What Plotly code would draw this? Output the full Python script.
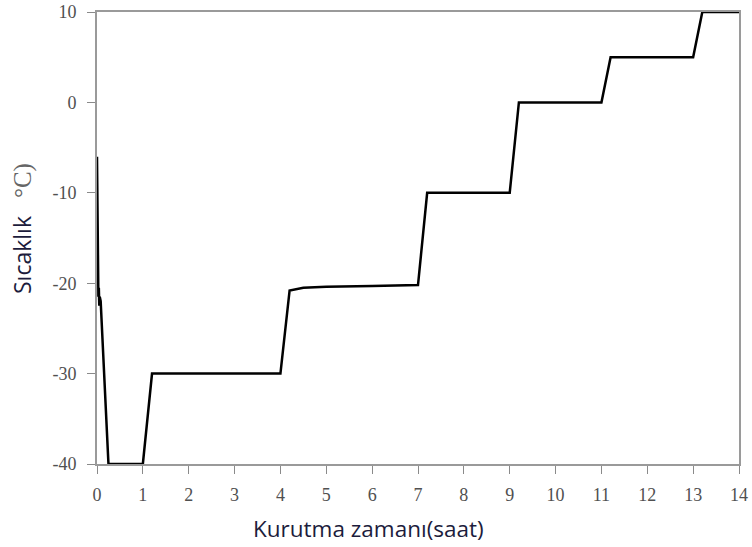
import plotly.graph_objects as go

# Drying time (hours) and temperature (°C)
time_h = [0.0, 0.005, 0.01, 0.015, 0.02, 0.03, 0.04, 0.05, 0.06, 0.08, 0.25,
          1.0, 1.2, 4.0, 4.2, 4.5, 5.0, 6.0, 7.0, 7.2, 9.0, 9.2, 11.0, 11.2,
          13.0, 13.2, 14.0]
temp_c = [-6.0, -10.0, -14.0, -18.5, -19.5, -21.5, -20.5, -22.5, -21.5, -22.0, -40.0,
          -40.0, -30.0, -30.0, -20.8, -20.5, -20.4, -20.3, -20.2, -10.0, -10.0, 0.0, 0.0, 5.0,
          5.0, 10.0, 10.0]

x_ticks = list(range(0, 15))
y_ticks = [-40, -30, -20, -10, 0, 10]
y_tick_text = ["-40", "-30", "-20", "-10", "0", "10"]

fig = go.Figure()
fig.add_trace(go.Scatter(x=time_h, y=temp_c, mode="lines",
                         line=dict(color="black", width=2.5), showlegend=False))

axis_common = dict(showgrid=False, zeroline=False, showline=True, linecolor="#9a9a9a",
                   linewidth=2, mirror=True, ticks="outside", ticklen=8, tickwidth=1,
                   tickcolor="#8a8a8a", ticklabeloverflow="allow",
                   tickfont=dict(family="Liberation Serif", size=18, color="#505050"))

fig.update_xaxes(range=[0, 14], tickvals=x_ticks, ticklabelstandoff=5, **axis_common)
fig.update_yaxes(range=[-40, 10], tickvals=y_ticks, ticktext=y_tick_text,
                 ticklabelstandoff=7, **axis_common)

# plot area: 642 x 452 px
fig.add_annotation(text="Kurutma zamanı(saat)", xref="paper", yref="paper",
                   x=(368 - 97) / 642, y=-(528 - 464) / 452, showarrow=False,
                   font=dict(family="Open Sans", size=22.5, color="#1c1c3c"),
                   xanchor="center", yanchor="middle")
fig.add_annotation(text="Sıcaklık\u00a0\u00a0\u00a0<span style='font-family:Liberation Serif;font-size:25px;color:#666666'>°C)</span>",
                   xref="paper", yref="paper",
                   x=-(97 - 22) / 642, y=(464 - 229) / 452, showarrow=False, textangle=-90,
                   font=dict(family="Open Sans", size=23, color="#1c1c3c"),
                   xanchor="center", yanchor="middle")

fig.update_layout(width=752, height=547, plot_bgcolor="white", paper_bgcolor="white",
                  margin=dict(l=97, r=13, t=12, b=83, autoexpand=False))

fig.write_html("out.html", config={"displayModeBar": False},
               post_script="document.body.style.margin='0';")
